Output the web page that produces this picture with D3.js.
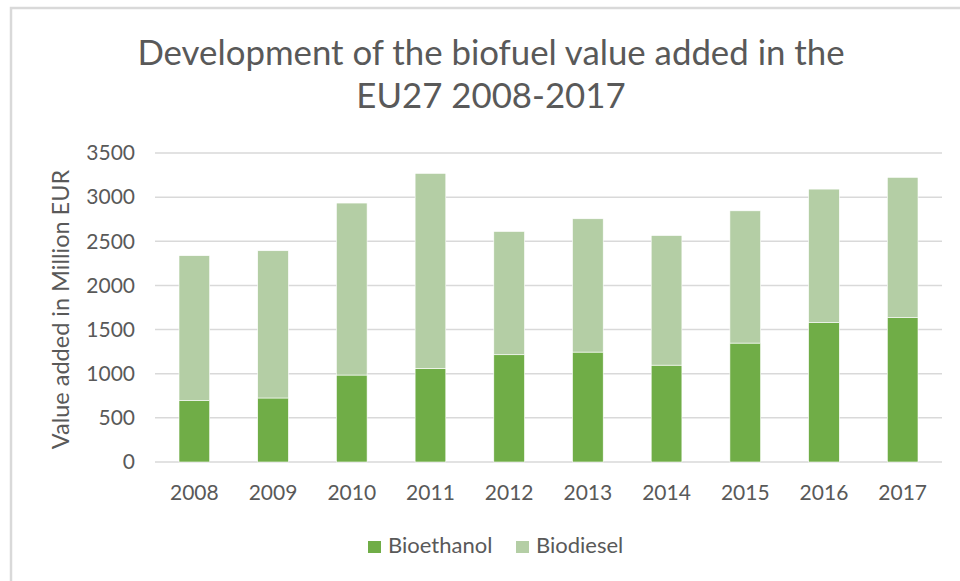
<!DOCTYPE html>
<html>
<head>
<meta charset="utf-8">
<script src="https://cdn.jsdelivr.net/npm/d3@7"></script>
<style>
  body { margin: 0; background: #fff; }
  text { font-family: Lato, "Open Sans", sans-serif; fill: #595959; }
</style>
</head>
<body>
<div id="chart"></div>
<script>
// values (Million EUR)
const years = ["2008", "2009", "2010", "2011", "2012", "2013", "2014", "2015", "2016", "2017"]
const bioethanol = [695, 725, 985, 1061, 1215, 1245, 1097, 1347, 1578, 1635]
const biodiesel = [1642, 1668, 1948, 2208, 1396, 1510, 1468, 1498, 1513, 1589]
const seriesNames = ["Bioethanol", "Biodiesel"]
const seriesColors = ["#70ad47", "#b4cea5"]
const yTicks = [0, 500, 1000, 1500, 2000, 2500, 3000, 3500]

const W = 960, H = 581
const margin = { top: 153, right: 18, bottom: 119, left: 155 }

const svg = d3.select("#chart").append("svg")
  .attr("width", W)
  .attr("height", H)

// chart frame (only top and left edges are visible in the crop)
svg.append("path")
  .attr("d", `M11,${H} V8 H${W}`)
  .attr("fill", "none")
  .attr("stroke", "#d9d9d9")
  .attr("stroke-width", 2.5)

const x = d3.scaleBand()
  .domain(years)
  .range([margin.left, W - margin.right])
  .paddingInner(0.61)
  .paddingOuter(0.305)

const y = d3.scaleLinear()
  .domain([0, 3500])
  .range([H - margin.bottom, margin.top])

// gridlines
svg.append("g")
  .selectAll("line")
  .data(yTicks)
  .join("line")
  .attr("x1", margin.left)
  .attr("x2", W - margin.right)
  .attr("y1", d => y(d))
  .attr("y2", d => y(d))
  .attr("stroke", "#d9d9d9")
  .attr("stroke-width", 1.5)

// stacked bars
const rows = years.map((yr, i) => ({ year: yr, Bioethanol: bioethanol[i], Biodiesel: biodiesel[i] }))
const stacked = d3.stack().keys(seriesNames)(rows)

svg.append("g")
  .selectAll("g")
  .data(stacked)
  .join("g")
  .attr("fill", (d, i) => seriesColors[i])
  .selectAll("rect")
  .data(d => d)
  .join("rect")
  .attr("x", d => x(d.data.year))
  .attr("width", x.bandwidth())
  .attr("y", d => y(d[1]))
  .attr("height", d => y(d[0]) - y(d[1]))
  .attr("stroke", "#ffffff")
  .attr("stroke-width", 0.6)

// y axis labels
const yAxis = svg.append("g")
  .attr("transform", `translate(${margin.left - 20},0)`)
  .call(d3.axisLeft(y).tickValues(yTicks).tickFormat(d3.format("d")).tickSize(0).tickPadding(0))
yAxis.select(".domain").remove()
yAxis.selectAll("text")
  .attr("font-size", 21)
  .attr("fill", "#595959")
  .style("font-family", "Lato, 'Open Sans', sans-serif")

// x axis labels
const xAxis = svg.append("g")
  .attr("transform", `translate(0,${H - margin.bottom})`)
  .call(d3.axisBottom(x).tickSize(0).tickPadding(23))
xAxis.select(".domain").remove()
xAxis.selectAll("text")
  .attr("font-size", 21)
  .attr("fill", "#595959")
  .style("font-family", "Lato, 'Open Sans', sans-serif")

// axis title
svg.append("text")
  .attr("transform", `translate(69,${(y(0) + y(3500)) / 2 + 2}) rotate(-90)`)
  .attr("text-anchor", "middle")
  .attr("font-size", 23.5)
  .text("Value added in Million EUR")

// title
const title = svg.append("text")
  .attr("text-anchor", "middle")
  .attr("font-size", 34.8)
title.append("tspan").attr("x", 491).attr("y", 65).text("Development of the biofuel value added in the")
title.append("tspan").attr("x", 491).attr("y", 108).text("EU27 2008-2017")

// legend
const legend = svg.append("g")
  .selectAll("g")
  .data(seriesNames)
  .join("g")
  .attr("transform", (d, i) => `translate(${[368, 516][i]},553)`)
legend.append("rect")
  .attr("x", 0)
  .attr("y", -12)
  .attr("width", 13)
  .attr("height", 12)
  .attr("fill", (d, i) => seriesColors[i])
legend.append("text")
  .attr("x", 20)
  .attr("y", 0)
  .attr("font-size", 22)
  .text(d => d)
</script>
</body>
</html>
